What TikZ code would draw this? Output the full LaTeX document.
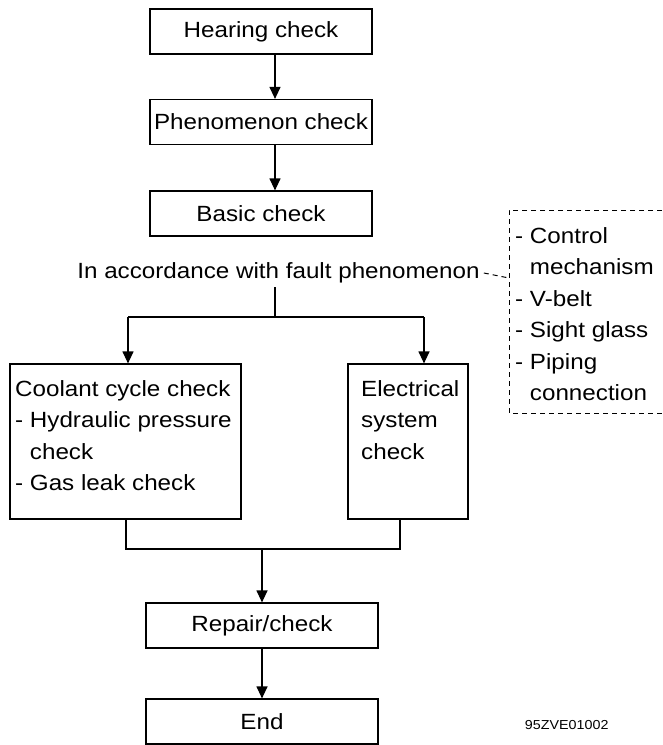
\documentclass[tikz,border=0pt]{standalone}
\usepackage{fontspec}
\setmainfont{Liberation Sans}[FakeStretch=1.1]
\usetikzlibrary{arrows.meta, positioning, calc}

\tikzset{
	box/.style={draw, line width=1.2pt, minimum height=45pt, inner sep=0pt},
	arr/.style={line width=1.2pt, -{Triangle[width=11pt,length=12pt]}},
	conn/.style={line width=1.2pt},
	dashline/.style={line width=1pt, dash pattern=on 5pt off 4pt},
	flowtext/.style={font=\fontsize{22}{31.5}\selectfont},
}

\begin{document}
\begin{tikzpicture}[x=1pt, y=-1pt, flowtext]
		\useasboundingbox (0,0) rectangle (662,745);
		
		% Main column
		\node[box, minimum width=222pt] (hear) at (261,31.5) {Hearing check};
		\node[box, minimum width=222pt] (phen) at (261,122) {Phenomenon check};
		\node[box, minimum width=222pt] (basic) at (261,213.5) {Basic check};
		\coordinate (axis) at (275,0);
		
		\draw[arr] (hear.south -| axis) -- (phen.north -| axis);
		\draw[arr] (phen.south -| axis) -- (basic.north -| axis);
		
		% Branching
		\node[inner sep=4pt] (fault) at (278.5,273) {In accordance with fault phenomenon};
		\coordinate (split) at (275,317);
		\coordinate (brL) at (128,317);
		\coordinate (brR) at (424,317);
		
		\node[box, minimum width=231pt, minimum height=155pt] (cool) at (125.5,441.5) {};
		\node[box, minimum width=120pt, minimum height=155pt] (elec) at (408,441.5) {};
		\node[anchor=north west, align=left, inner sep=0pt] (cooltxt) at (15,380)
			{Coolant cycle check\\- Hydraulic pressure\\\phantom{-\ }check\\- Gas leak check};
		\node[anchor=north west, align=left, inner sep=0pt] (electxt) at (361,380)
			{Electrical\\system\\check};
		
		\draw[conn] (fault.south -| axis) -- (split);
		\draw[conn] (brL) -- (brR);
		\draw[arr] (brL) -- (brL |- cool.north);
		\draw[arr] (brR) -- (brR |- elec.north);
		
		% Check items
		\coordinate (notes) at (509,278);
		\draw[dashline] (662,210) -- (509,210) -- (509,413) -- (662,413);
		\draw[dashline] (fault.east) -- (notes);
		\node[anchor=north west, align=left, inner sep=0pt] (notestxt) at (515,227)
			{- Control\\\phantom{-\ }mechanism\\- V-belt\\- Sight glass\\- Piping\\\phantom{-\ }connection};
		
		% Merging
		\coordinate (mL) at (126,549);
		\coordinate (mR) at (400,549);
		\node[box, minimum width=232pt] (repair) at (262,625.5) {Repair/check};
		\node[box, minimum width=232pt] (end) at (262,721.5) {End};
		
		\draw[conn] (cool.south -| mL) -- (mL) -- (mR) -- (elec.south -| mR);
		\draw[arr] (repair.north |- mL) -- (repair.north);
		\draw[arr] (repair) -- (end);
		
		\node[font=\fontsize{13}{15}\selectfont, anchor=east] (figid) at (612,725) {95ZVE01002};
		
\end{tikzpicture}
\end{document}
